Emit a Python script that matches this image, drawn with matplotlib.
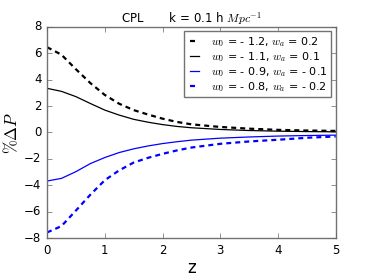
import numpy as np
import matplotlib
matplotlib.use("Agg")
import matplotlib.pyplot as plt

plt.style.use("classic")
plt.rcParams["mathtext.fontset"] = "cm"

# values
z = [0, 0.25, 0.5, 0.75, 1, 1.25, 1.5, 1.75, 2, 2.25, 2.5, 3, 3.5, 4, 4.5, 5]
dp_a = [6.47, 5.90, 4.80, 3.75, 2.85, 2.18, 1.70, 1.36, 1.05, 0.80, 0.62, 0.42, 0.29, 0.20, 0.15, 0.12]
dp_b = [3.35, 3.12, 2.72, 2.20, 1.70, 1.32, 1.00, 0.78, 0.60, 0.46, 0.36, 0.23, 0.15, 0.10, 0.07, 0.05]
dp_c = [-3.68, -3.48, -2.97, -2.36, -1.90, -1.52, -1.24, -1.02, -0.84, -0.70, -0.58, -0.43, -0.34, -0.27, -0.23, -0.20]
dp_d = [-7.58, -7.10, -5.92, -4.72, -3.62, -2.87, -2.28, -1.92, -1.62, -1.36, -1.14, -0.86, -0.68, -0.55, -0.40, -0.30]

labels = [r"$w_0$ = - 1.2, $w_a$ = 0.2",
          r"$w_0$ = - 1.1, $w_a$ = 0.1",
          r"$w_0$ = - 0.9, $w_a$ = - 0.1",
          r"$w_0$ = - 0.8, $w_a$ = - 0.2"]

fig = plt.figure(figsize=(3.74, 2.8), dpi=100, facecolor="white")
ax = fig.add_axes([0.1257, 0.15, 0.772, 0.7536])

dash = (3.6, 2.9)
ax.plot(z, dp_a, color="k", ls="--", lw=1.6, dashes=dash, label=labels[0])
ax.plot(z, dp_b, color="k", ls="-", lw=0.9, label=labels[1])
ax.plot(z, dp_c, color="b", ls="-", lw=0.9, label=labels[2])
ax.plot(z, dp_d, color="b", ls="--", lw=1.6, dashes=dash, label=labels[3])

ax.set_xlim(0, 5)
ax.set_ylim(-8, 8)
ax.set_xticks([0, 1, 2, 3, 4, 5])
ax.set_yticks([-8, -6, -4, -2, 0, 2, 4, 6, 8])
ax.tick_params(labelsize=8.5, length=3.5, color="0.4")
for s in ax.spines.values():
    s.set_color("0.45")

ax.set_xlabel("z", fontsize=12, labelpad=2)
ax.set_ylabel(r"$\%\Delta P$", fontsize=12, labelpad=2)
ax.set_title(r"CPL       k = 0.1 h $Mpc^{-1}$", fontsize=8.5, pad=3)

leg = ax.legend(loc="upper right", fontsize=8.0, handlelength=1.4, borderpad=0.3,
                labelspacing=0.1, handletextpad=0.8, borderaxespad=0.4)
leg.get_frame().set_edgecolor("0.45")

fig.savefig("out.png", dpi=100, facecolor="white")
